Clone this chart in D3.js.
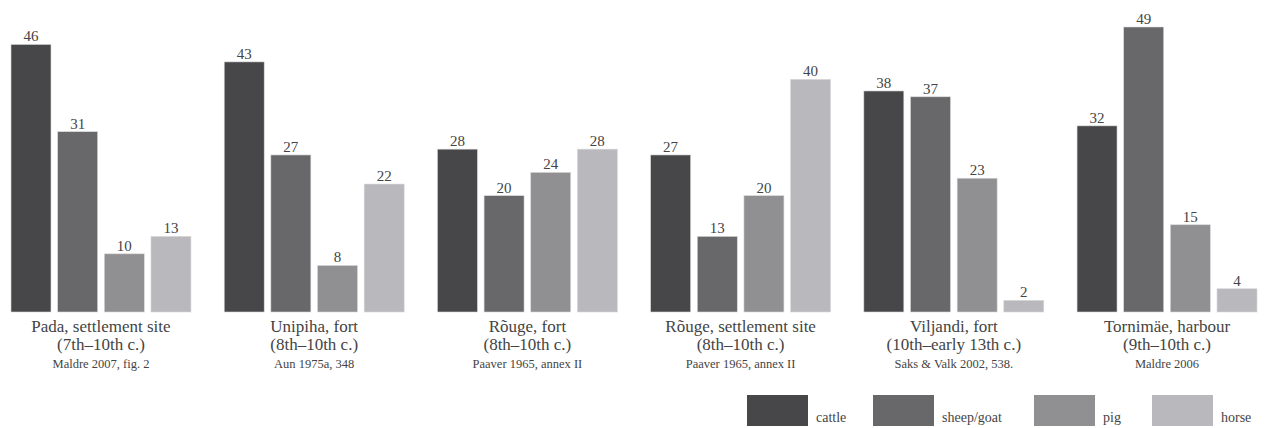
<!DOCTYPE html>
<html>
<head>
<meta charset="utf-8">
<script src="https://cdn.jsdelivr.net/npm/d3@7"></script>
<style>
  body { margin: 0; background: #fff; }
</style>
</head>
<body>
<div id="chart-area"></div>
<script>
// data
const sites = ["Pada, settlement site", "Unipiha, fort", "Rõuge, fort", "Rõuge, settlement site", "Viljandi, fort", "Tornimäe, harbour"];
const periods = ["(7th–10th c.)", "(8th–10th c.)", "(8th–10th c.)", "(8th–10th c.)", "(10th–early 13th c.)", "(9th–10th c.)"];
const sources = ["Maldre 2007, fig. 2", "Aun 1975a, 348", "Paaver 1965, annex II", "Paaver 1965, annex II", "Saks & Valk 2002, 538.", "Maldre 2006"];
const animals = ["cattle", "sheep/goat", "pig", "horse"];
const cattle = [46, 43, 28, 27, 38, 32];
const sheepGoat = [31, 27, 20, 13, 37, 49];
const pig = [10, 8, 24, 20, 23, 15];
const horse = [13, 22, 28, 40, 2, 4];

const series = [cattle, sheepGoat, pig, horse];
const colors = ["#47474a", "#68686b", "#909093", "#b9b9bd"];
const serif = "Liberation Serif, DejaVu Serif, serif";
const ink = "#444";

const chartSize = { width: 1267, height: 428 };
const margin = { left: 11, right: 10 };
const baseline = 312;

const rows = sites.map((s, i) => ({
    site: s,
    period: periods[i],
    source: sources[i],
    values: animals.map((a, j) => ({ animal: a, value: series[j][i] }))
}));

const svg = d3.select("#chart-area")
    .append("svg")
    .attr("width", chartSize.width)
    .attr("height", chartSize.height)
    .attr("font-family", serif);

const x0 = d3.scaleBand()
    .domain(sites)
    .range([margin.left, chartSize.width - margin.right])
    .paddingInner(0.156)
    .paddingOuter(0);

const x1 = d3.scaleBand()
    .domain(animals)
    .range([0, x0.bandwidth()])
    .paddingInner(0.143)
    .paddingOuter(0);

const y = d3.scaleLinear()
    .domain([0, 49])
    .range([baseline, 27]);

const color = d3.scaleOrdinal().domain(animals).range(colors);

const groups = svg.selectAll(".site")
    .data(rows)
    .enter()
    .append("g")
    .attr("class", "site")
    .attr("transform", d => `translate(${x0(d.site)},0)`);

groups.selectAll("rect")
    .data(d => d.values)
    .enter()
    .append("rect")
    .attr("x", d => x1(d.animal))
    .attr("y", d => y(d.value))
    .attr("width", x1.bandwidth())
    .attr("height", d => baseline - y(d.value))
    .attr("fill", d => color(d.animal))
    .attr("stroke", "#d8d8d8")
    .attr("stroke-width", 0.6);

groups.selectAll(".val")
    .data(d => d.values)
    .enter()
    .append("text")
    .attr("class", "val")
    .attr("x", d => x1(d.animal) + x1.bandwidth() / 2)
    .attr("y", d => y(d.value) - 3)
    .attr("text-anchor", "middle")
    .attr("font-family", serif)
    .attr("font-size", 15)
    .attr("fill", ink)
    .text(d => d.value);

const cx = x0.bandwidth() / 2;
const addLine = (field, yPos, size) => groups.append("text")
    .attr("x", cx).attr("y", yPos)
    .attr("text-anchor", "middle")
    .attr("font-family", serif)
    .attr("font-size", size)
    .attr("fill", ink)
    .text(d => d[field]);
addLine("site", 332, 17);
addLine("period", 350, 17);
addLine("source", 368, 12.5);

// legend
const legendOffsets = { "cattle": 0, "sheep/goat": 126, "pig": 287, "horse": 405 };
const legend = svg.append("g").selectAll("g")
    .data(animals)
    .enter()
    .append("g")
    .attr("transform", d => `translate(${747 + legendOffsets[d]},395)`);
legend.append("rect")
    .attr("width", 61)
    .attr("height", 31)
    .attr("fill", d => color(d));
legend.append("text")
    .attr("x", 69)
    .attr("y", 27)
    .attr("font-family", serif)
    .attr("font-size", 14)
    .attr("fill", ink)
    .text(d => d);
</script>
</body>
</html>
